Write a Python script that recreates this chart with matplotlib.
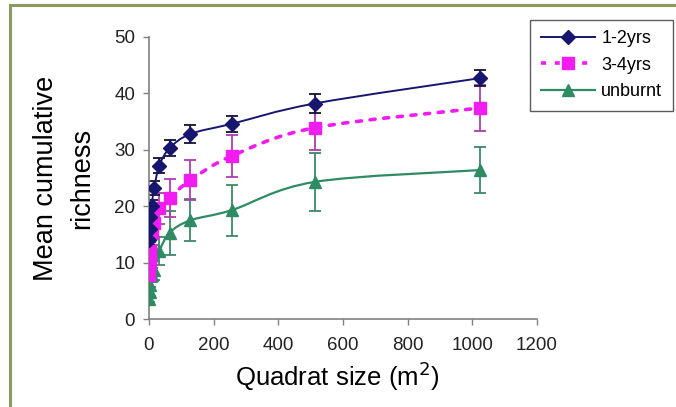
import numpy as np
import matplotlib
matplotlib.use("Agg")
import matplotlib.pyplot as plt
from matplotlib.path import Path
from matplotlib.patches import PathPatch
from matplotlib.lines import Line2D

plt.rcParams['font.family'] = ['Liberation Sans', 'DejaVu Sans']

# quadrat sizes (m2)
sizes = [1, 2, 4, 8, 16, 32, 64, 128, 256, 512, 1024]

rich_12 = [14.0, 16.0, 18.0, 20.0, 23.2, 27.2, 30.3, 32.8, 34.6, 38.2, 42.7]
err_12 = [0.8, 0.9, 1.0, 1.1, 1.3, 1.4, 1.4, 1.6, 1.4, 1.6, 1.4]

rich_34 = [7.8, 10.1, 12.0, 15.2, 17.0, 19.6, 21.5, 24.6, 28.9, 33.9, 37.4]
err_34 = [1.0, 1.3, 1.6, 2.0, 2.4, 2.8, 3.4, 3.5, 3.8, 4.0, 4.0]

rich_ub = [3.6, 4.8, 6.0, 7.8, 8.6, 12.0, 15.3, 17.5, 19.3, 24.3, 26.4]
err_ub = [0.6, 0.8, 1.0, 1.3, 1.6, 2.5, 3.9, 3.7, 4.5, 5.2, 4.1]

labels = ['1-2yrs', '3-4yrs', 'unburnt']
colors = ['#16166e', '#f01cf0', '#2e8b63']
bar_colors = ['#111133', '#b03cb0', '#3c8a68']
markers = ['D', 's', '^']
msizes = [7, 8, 8]
styles = ['-', (0, (1.4, 2.4)), '-']
widths = [1.4, 2.6, 1.6]


def smooth_path(x, y):
    # Catmull-Rom curve through the points, written as cubic Bezier segments
    pts = np.column_stack([x, y]).astype(float)
    n = len(pts)
    verts = [pts[0]]
    codes = [Path.MOVETO]
    for i in range(n - 1):
        p0 = pts[max(i - 1, 0)]
        p1 = pts[i]
        p2 = pts[i + 1]
        p3 = pts[min(i + 2, n - 1)]
        c1 = p1 + (p2 - p0) / 6.0
        c2 = p2 - (p3 - p1) / 6.0
        verts += [c1, c2, p2]
        codes += [Path.CURVE4] * 3
    return Path(verts, codes)


fig = plt.figure(figsize=(6.76, 4.07), dpi=100)
ax = fig.add_axes([0.2204, 0.2162, 0.574, 0.693])

series = [(rich_12, err_12), (rich_34, err_34), (rich_ub, err_ub)]
handles = []
for k in [2, 1, 0]:
    y, e = series[k]
    ax.errorbar(sizes, y, yerr=e, fmt='none', ecolor=bar_colors[k],
                elinewidth=1.3, capsize=4, capthick=1.3, zorder=2)
    ax.add_patch(PathPatch(smooth_path(sizes, y), fill=False,
                           edgecolor=colors[k], lw=widths[k],
                           linestyle=styles[k], capstyle='round', zorder=3))
    ax.plot(sizes, y, linestyle='none', marker=markers[k], ms=msizes[k],
            color=colors[k], mec=colors[k], zorder=4)

for k in range(3):
    handles.append(Line2D([], [], color=colors[k], lw=widths[k],
                          linestyle=styles[k], marker=markers[k],
                          ms=msizes[k], mec=colors[k]))

ax.set_xlim(0, 1200)
ax.set_ylim(0, 50)
ax.set_xticks(range(0, 1201, 200))
ax.set_yticks(range(0, 51, 10))
for side in ['top', 'right']:
    ax.spines[side].set_visible(False)
for side in ['left', 'bottom']:
    ax.spines[side].set_color('#808080')
    ax.spines[side].set_linewidth(1.2)
ax.tick_params(direction='out', length=4, width=1, color='#808080',
               labelsize=13.5, labelcolor='#222222')
ax.tick_params(axis='x', pad=9)
ax.tick_params(axis='y', pad=6)

ax.set_xlabel('Quadrat size (m$^2$)', fontsize=18.5, labelpad=7)
ax.xaxis.set_label_coords(0.485, -0.145)
ax.set_ylabel('Mean cumulative\nrichness', fontsize=19.5, labelpad=14,
              linespacing=1.5)

leg = fig.legend(handles, labels, loc='upper right',
                 bbox_to_anchor=(0.9956, 0.952), fontsize=13,
                 frameon=True, fancybox=False, edgecolor='#333333',
                 handlelength=3.0, labelspacing=0.52, borderpad=0.6,
                 handletextpad=0.35, borderaxespad=0.0)
leg.get_frame().set_linewidth(1.0)

# thin olive frame line along the top and left
fig.add_artist(Line2D([0.015, 1.0], [0.988, 0.988], color='#8a9a62', lw=2.2,
                      transform=fig.transFigure))
fig.add_artist(Line2D([0.015, 0.015], [0.0, 0.988], color='#8a9a62', lw=2.2,
                      transform=fig.transFigure))

fig.savefig('out.png', dpi=100)
